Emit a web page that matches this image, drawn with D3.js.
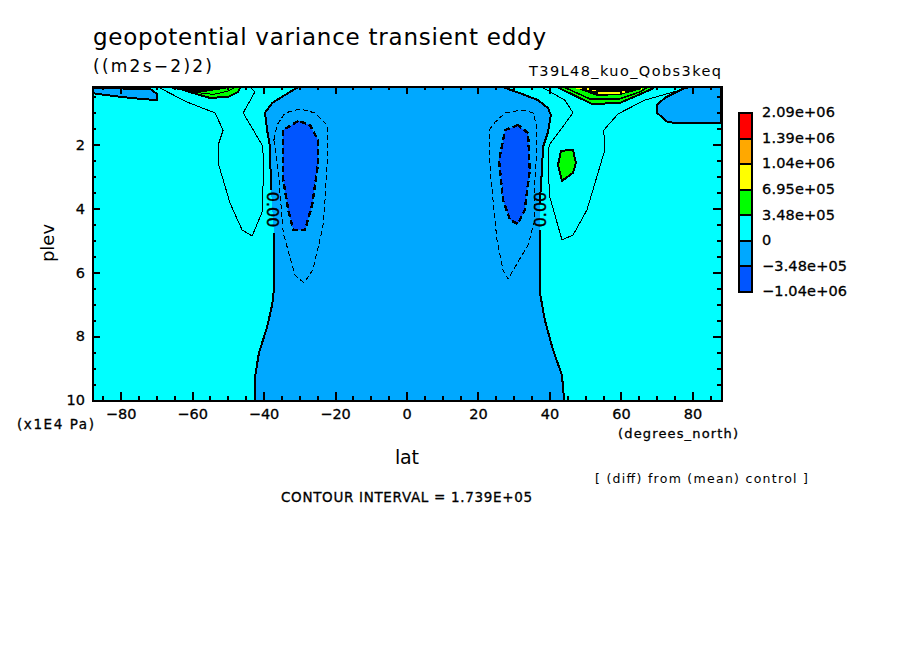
<!DOCTYPE html>
<html><head><meta charset="utf-8">
<script src="https://cdn.jsdelivr.net/npm/d3@7/dist/d3.min.js"></script>
<style>html,body{margin:0;background:#fff}svg{display:block}text{font-family:"DejaVu Sans";fill:#000}</style>
</head><body><svg id="c" width="904" height="654"></svg>
<script>
// contour data: [lat, plev (x1E4 Pa)]
const zeroLeftUpper=[[-29.8,.157],[-31.7,.28],[-37.6,.69],[-39.6,1.0],[-39.0,1.54],[-38.2,2.07],[-37.9,3.42]];
const zeroLeftLower=[[-37.1,4.76],[-37.1,6.55],[-37.6,7.02],[-39.0,7.71],[-41.3,8.53],[-42.4,9.28],[-42.4,10]];
const zeroRightUpper=[[26.5,.157],[28.4,.25],[31.7,.38],[36.8,.60],[39.6,.85],[40.4,1.07],[39.6,1.60],[38.2,2.07],[37.9,2.79],[37.3,3.82]];
const zeroRightLower=[[37.3,4.67],[37.3,6.61],[38.7,7.49],[41.0,8.43],[43.5,9.22],[44.1,10]];
const bluePatchLeft=[[-88,.22],[-71.7,.25],[-69.8,.41],[-69.8,.60],[-74.5,.56],[-82.1,.47],[-88,.38]];
const bluePatchRight=[[80.1,.157],[88,.157],[88,1.32],[76.5,1.32],[73.1,1.29],[70.1,1.0],[70.1,.75],[72.3,.53],[77.3,.25]];
const dashLeft=[[-37.1,1.85],[-36.2,1.38],[-34,1.0],[-29.8,.88],[-25.6,1.0],[-22.2,1.38],[-22,2.16],[-22.8,3.73],[-23.4,4.58],[-26.2,5.92],[-28.7,6.33],[-31.2,6.08],[-34.5,4.76],[-35.9,2.79]];
const dashRight=[[23.1,1.54],[24.8,1.29],[27.6,1.0],[32.3,.91],[35.4,1.0],[36.5,1.44],[36.5,2.16],[35.9,3.10],[35.9,4.36],[34,5.14],[28.4,6.21],[27,5.92],[25.3,4.98],[23.4,2.79]];
const darkLeft=[[-30.3,1.25],[-34.5,1.54],[-34.5,3.10],[-33.1,4.04],[-31.7,4.67],[-28.4,4.67],[-26.4,3.89],[-24.8,2.63],[-24.8,1.85],[-27,1.38]];
const darkRight=[[31.2,1.38],[27.6,1.54],[25.9,2.48],[27,3.73],[29,4.36],[31.2,4.48],[33.1,4.04],[34.5,2.79],[34,1.63]];
const thinLeft=[[-69,.22],[-61.4,.66],[-53.6,1.0],[-51.3,1.54],[-52.7,2.01],[-52.7,2.57],[-49.4,3.82],[-46,4.67],[-43.2,4.86],[-40.4,4.11],[-39.9,2.48],[-40.4,2.01],[-45.7,1.0],[-42.4,.34],[-43.8,.19]];
const thinRight=[[37.9,.19],[44.3,.60],[46.6,1.0],[39.9,2.01],[39.6,2.70],[40.1,3.64],[43.5,4.98],[46.6,4.83],[50.5,4.04],[55.5,2.16],[55.2,1.54],[59.2,1.03],[66.7,.60],[78.5,.22]];
const greenBlob=[[43.2,2.19],[46.6,2.16],[47.4,2.57],[46.6,2.88],[43.5,3.13],[42.4,2.63]];
const greenTopLeft=[[-67.6,.157],[-63.4,.25],[-57.8,.44],[-55,.53],[-49.9,.50],[-47.1,.34],[-46.6,.22],[-47.4,.157]];
const greenArcLeft=[[-60.5,.34],[-54,.42],[-50,.32],[-48,.2]];
const blackTopLeft=[[-72,.157],[-64,.24],[-60.5,.33],[-56.4,.34],[-50.7,.24],[-47.5,.157]];
const greenTopRight=[[42.1,.157],[42.1,.19],[51.9,.72],[59.7,.69],[68.1,.28],[69.5,.19],[69.5,.157]];
const greenArcRight=[[44,.19],[51.3,.56],[59.7,.56],[65.3,.34],[67.6,.19]];
const blackTopRight=[[45,.157],[46.6,.19],[53.3,.47],[59.7,.44],[63.9,.31],[67.3,.157]];
const yellowBits=[[[-54,.2],[-52,.2]],[[53.6,.38],[59.7,.38]],[[60,.34],[61.2,.34]],[[47.5,.22],[49,.22]],[[50,.25],[51,.25]],[[52,.30],[53,.30]],[[65.5,.25],[66,.25]]];
const legendColors=["#ff0000","#ffa800","#ffff00","#00ff00","#00ffff","#00a8ff","#0055ff"];
const legendLabels=["2.09e+06","1.39e+06","1.04e+06","6.95e+05","3.48e+05","0","\u22123.48e+05","\u22121.04e+06"];
const latMajor=[-80,-60,-40,-20,0,20,40,60,80];
const latMinor=d3.range(-85,90,5);
const plevMajor=[2,4,6,8,10];
const plevMinor=d3.range(.5,10.5,.5);

const svg=d3.select("#c");
const x=d3.scaleLinear().domain([-88,88]).range([92,721]);
const y=d3.scaleLinear().domain([.157,10]).range([86,400]);
const line=d3.line().x(d=>x(d[0])).y(d=>y(d[1]));
const closed=d3.line().x(d=>x(d[0])).y(d=>y(d[1])).curve(d3.curveLinearClosed);
svg.append("clipPath").attr("id","pc").append("rect").attr("x",92).attr("y",86).attr("width",629).attr("height",314);
const g=svg.append("g").attr("clip-path","url(#pc)").attr("shape-rendering","crispEdges");
g.append("rect").attr("x",92).attr("y",86).attr("width",629).attr("height",314).attr("fill",legendColors[4]);
const fill=(d,c)=>g.append("path").attr("d",closed(d)).attr("fill",c);
const stroke=(d,w,dash,f)=>g.append("path").attr("d",(f?closed:line)(d)).attr("fill","none").attr("stroke","#000").attr("stroke-width",w).attr("stroke-dasharray",dash||null);
const centre=[...zeroLeftUpper,...zeroLeftLower,...zeroRightLower.slice().reverse(),...zeroRightUpper.slice().reverse()];
fill(centre,legendColors[5]);
fill(bluePatchLeft,legendColors[5]);
fill(bluePatchRight,legendColors[5]);
fill(darkLeft,legendColors[6]);
fill(darkRight,legendColors[6]);
fill(greenBlob,legendColors[3]);
fill(greenTopLeft,legendColors[3]);
fill(greenTopRight,legendColors[3]);
fill(blackTopLeft,"#000");
fill(blackTopRight,"#000");
[zeroLeftUpper,zeroLeftLower,zeroRightUpper,zeroRightLower].forEach(d=>stroke(d,2));
stroke(bluePatchLeft,2,null,true);
stroke(bluePatchRight,2,null,true);
stroke(dashLeft,1,"5,3",true);
stroke(dashRight,1,"5,3",true);
stroke(darkLeft,2.4,"6,3",true);
stroke(darkRight,2.4,"6,3",true);
stroke(thinLeft,1);
stroke(thinRight,1);
stroke(greenBlob,2,null,true);
stroke(greenTopLeft,2,null,true);
stroke(greenTopRight,2,null,true);
stroke(greenArcLeft,1);
stroke(greenArcRight,1.5);
yellowBits.forEach(s=>g.append("path").attr("d",line(s)).attr("stroke","#ffff00").attr("stroke-width",1.5).attr("fill","none"));

// contour labels
const lab=(lat,p,r,t)=>svg.append("text").attr("transform",`translate(${x(lat)},${y(p)}) rotate(${r})`).attr("text-anchor","middle").attr("dy","0.36em").attr("font-size",16).attr("stroke","#000").attr("stroke-width",.4).text(t);
lab(-37.4,4.03,90,"0.00");
lab(37.4,4.03,-90,"0.00");

// axes
const ax=svg.append("g").attr("shape-rendering","crispEdges");
const style=s=>{s.selectAll("path").attr("stroke","#000").attr("stroke-width",2);s.selectAll("line").attr("stroke","#000").attr("stroke-width",2);};
const fmt=d=>(d<0?"\u2212":"")+Math.abs(d);
ax.append("g").attr("transform","translate(0,400)").call(d3.axisBottom(x).tickValues(latMinor).tickSize(-4).tickFormat("")).call(style);
ax.append("g").attr("transform","translate(0,86)").call(d3.axisTop(x).tickValues(latMinor).tickSize(-4).tickFormat("")).call(style);
ax.append("g").attr("transform","translate(92,0)").call(d3.axisLeft(y).tickValues(plevMinor).tickSize(-4).tickFormat("")).call(style);
ax.append("g").attr("transform","translate(721,0)").call(d3.axisRight(y).tickValues(plevMinor).tickSize(-4).tickFormat("")).call(style);
const bx=ax.append("g").attr("transform","translate(0,400)").call(d3.axisBottom(x).tickValues(latMajor).tickSize(-8).tickPadding(9).tickFormat(fmt)).call(style);
ax.append("g").attr("transform","translate(0,86)").call(d3.axisTop(x).tickValues(latMajor).tickSize(-8).tickFormat("")).call(style);
const by=ax.append("g").attr("transform","translate(92,0)").call(d3.axisLeft(y).tickValues(plevMajor).tickSize(-8).tickPadding(7).tickFormat(fmt)).call(style);
ax.append("g").attr("transform","translate(721,0)").call(d3.axisRight(y).tickValues(plevMajor).tickSize(-8).tickFormat("")).call(style);
[bx,by].forEach(s=>s.selectAll("text").attr("font-size",14.5).attr("font-family","DejaVu Sans").attr("fill","#000").attr("stroke","#000").attr("stroke-width",.3).attr("shape-rendering",null));

// colorbar
const yb=d3.scaleLinear().domain([0,7]).range([113,292]);
const cb=svg.append("g").attr("shape-rendering","crispEdges");
legendColors.forEach((c,i)=>cb.append("rect").attr("x",739).attr("y",yb(i)).attr("width",13).attr("height",yb(i+1)-yb(i)).attr("fill",c).attr("stroke","#000").attr("stroke-width",2));
legendLabels.forEach((t,i)=>svg.append("text").attr("x",762).attr("y",yb(i)-1).attr("dy","0.36em").attr("font-size",14.5).attr("textLength",t==="0"?null:(t[0]==="\u2212"?85:73)).attr("stroke","#000").attr("stroke-width",.3).text(t));

// text
const T=(t,xp,yp,size,len,w)=>{const e=svg.append("text").attr("x",xp).attr("y",yp).attr("dy","0.36em").attr("font-size",size).text(t);
 if(len)e.attr("textLength",len).attr("lengthAdjust","spacing");
 if(w)e.attr("stroke","#000").attr("stroke-width",w);
 return e;};
T("geopotential variance transient eddy",93,37,23,453);
T("((m2s\u22122)2)",93,66,17,119);
T("T39L48_kuo_Qobs3keq",529,71,14.5,192);
T("(x1E4 Pa)",17,424,13.5,77,.3);
T("(degrees_north)",618,433,13,120,.3);
T("lat",395,457,19,24);
T("[ (diff) from (mean) control ]",595,478,12.5,213);
T("CONTOUR INTERVAL = 1.739E+05",281,497,13.5,251,.3);
svg.append("text").attr("transform","translate(48,243) rotate(-90)").attr("text-anchor","middle").attr("dy","0.36em").attr("font-size",18).text("plev");
</script></body></html>
